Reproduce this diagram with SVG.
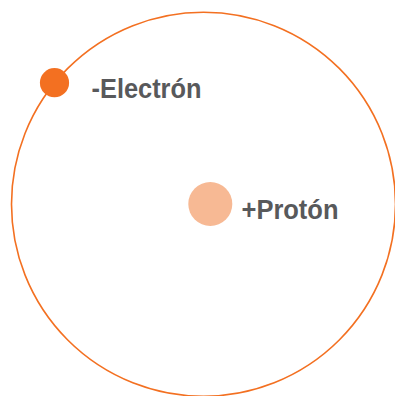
<svg xmlns="http://www.w3.org/2000/svg" width="395" height="396" viewBox="0 0 395 396">
<style>
.lbl{font-family:"Liberation Sans",Arial,sans-serif;font-weight:bold;font-size:27.5px;fill:#58595b}
</style>
<rect width="395" height="396" fill="#ffffff"/>
<g id="orbit"><circle cx="203.5" cy="204.2" r="192" fill="none" stroke="#f37021" stroke-width="1.6"/></g>
<g id="electron">
<circle cx="54.5" cy="82.7" r="14.6" fill="#f37021"/>
<text class="lbl" x="91.5" y="98.3" textLength="110" lengthAdjust="spacingAndGlyphs">-Electrón</text>
</g>
<g id="proton">
<circle cx="210.3" cy="204" r="22" fill="#f7b994"/>
<text class="lbl" x="241.5" y="219" textLength="97" lengthAdjust="spacingAndGlyphs">+Protón</text>
</g>
</svg>
